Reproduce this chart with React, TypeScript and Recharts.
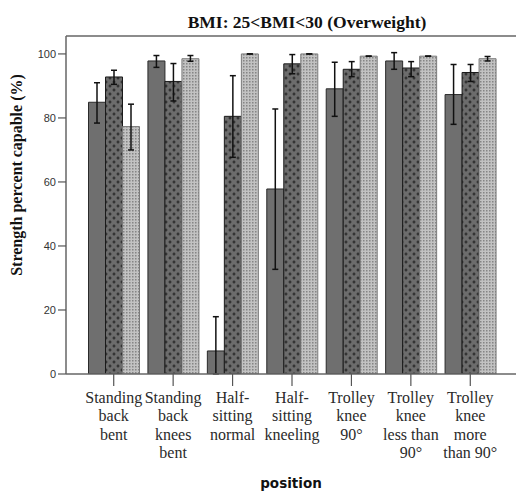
import React from "react";
import {
  Bar,
  BarChart,
  ErrorBar,
  ReferenceLine,
  XAxis,
  YAxis,
} from "recharts";

// positions, wrapped the way the axis shows them
const categories = [
  "Standing\nback\nbent",
  "Standing\nback\nknees\nbent",
  "Half-\nsitting\nnormal",
  "Half-\nsitting\nkneeling",
  "Trolley\nknee\n90°",
  "Trolley\nknee\nless than\n90°",
  "Trolley\nknee\nmore\nthan 90°",
];

// solid grey bars
const solidValues = [84.9, 97.8, 7.2, 57.8, 89.1, 97.8, 87.3];
const solidLow = [78.4, 95.8, 0, 32.7, 80.5, 95.2, 78.0];
const solidHigh = [91.0, 99.5, 17.9, 82.8, 97.4, 100.4, 96.7];

// cross-hatched bars
const crossValues = [92.8, 91.4, 80.5, 96.9, 95.2, 95.6, 94.2];
const crossLow = [90.5, 85.3, 67.7, 93.8, 92.9, 92.9, 91.4];
const crossHigh = [94.9, 97.0, 93.2, 99.8, 97.6, 97.6, 96.7];

// dotted light bars
const dotValues = [77.3, 98.5, 100, 100, 99.3, 99.3, 98.5];
const dotLow = [70.0, 97.7, 100, 100, 99.3, 99.3, 97.8];
const dotHigh = [84.3, 99.5, 100, 100, 99.3, 99.3, 99.2];

const yTicks = [0, 20, 40, 60, 80, 100];
const yMax = 105.6;

const data = categories.map((name, i) => ({
  name,
  solid: solidValues[i],
  solidErr: [solidValues[i] - solidLow[i], solidHigh[i] - solidValues[i]],
  cross: crossValues[i],
  crossErr: [crossValues[i] - crossLow[i], crossHigh[i] - crossValues[i]],
  dots: dotValues[i],
  dotsErr: [dotValues[i] - dotLow[i], dotHigh[i] - dotValues[i]],
}));

function CategoryTick({ x, y, payload }: any) {
  const lines = String(payload.value).split("\n");
  return (
    <text
      x={x}
      y={y}
      textAnchor="middle"
      fontFamily="'Liberation Serif', serif"
      fontSize={16}
      fill="#2a2a2a"
    >
      {lines.map((line, i) => (
        <tspan key={i} x={x} dy={i === 0 ? 16.5 : 18.5}>
          {line}
        </tspan>
      ))}
    </text>
  );
}

function YLabel({ viewBox }: any) {
  const cx = viewBox.x + 22;
  const cy = viewBox.y + viewBox.height / 2 - 30;
  return (
    <text
      x={cx}
      y={cy}
      transform={`rotate(-90 ${cx} ${cy})`}
      textAnchor="middle"
      fontFamily="'Liberation Serif', serif"
      fontWeight="bold"
      fontSize={16}
      fill="#111"
    >
      Strength percent capable (%)
    </text>
  );
}

function XLabel({ viewBox }: any) {
  return (
    <text
      x={viewBox.x + viewBox.width / 2}
      y={488}
      textAnchor="middle"
      fontFamily="'DejaVu Sans', sans-serif"
      fontWeight="bold"
      fontSize={13.5}
      fill="#111"
    >
      position
    </text>
  );
}

export default function App() {
  return (
    <div style={{ position: "absolute", left: 0, top: 0, width: 516, height: 491, background: "#fff" }}>
      <svg width={0} height={0} style={{ position: "absolute" }}>
        <defs>
          <pattern id="crossFill" width={8} height={8} patternUnits="userSpaceOnUse">
            <rect width={8} height={8} fill="#6c6c6c" />
            <path d="M2 0.5v3M0.5 2h3M6 4.5v3M4.5 6h3" stroke="#262626" strokeWidth={1.2} />
          </pattern>
          <pattern id="dotFill" width={3} height={3} patternUnits="userSpaceOnUse">
            <rect width={3} height={3} fill="#c2c2c2" />
            <rect width={1.5} height={1.5} fill="#858585" />
          </pattern>
        </defs>
      </svg>
      <svg width={516} height={40} style={{ position: "absolute", left: 0, top: 0 }}>
        <text
          x={307}
          y={28}
          textAnchor="middle"
          fontFamily="'Liberation Serif', serif"
          fontWeight="bold"
          fontSize={17.5}
          fill="#111"
        >
          BMI: 25&lt;BMI&lt;30 (Overweight)
        </text>
      </svg>
      <BarChart
        width={516}
        height={491}
        data={data}
        margin={{ top: 36, right: 0, bottom: 0, left: 0 }}
        barCategoryGap={4.5}
        barGap={0}
      >
        <XAxis
          dataKey="name"
          interval={0}
          height={117}
          padding={{ left: 18, right: 16 }}
          axisLine={{ stroke: "#666", strokeWidth: 1.5 }}
          tickLine={{ stroke: "#555", strokeWidth: 1.2 }}
          tickSize={12}
          tickMargin={0}
          tick={<CategoryTick />}
          label={<XLabel />}
        />
        <YAxis
          width={66}
          domain={[0, yMax]}
          ticks={yTicks}
          allowDataOverflow
          axisLine={{ stroke: "#666", strokeWidth: 1.5 }}
          tickLine={{ stroke: "#555", strokeWidth: 1.2 }}
          tickSize={8}
          tickMargin={2}
          tick={{ fontFamily: "'Liberation Sans', Arial, sans-serif", fontSize: 11, fill: "#333" }}
          label={<YLabel />}
        />
        <ReferenceLine y={yMax} stroke="#666" strokeWidth={1.5} />
        <Bar dataKey="solid" fill="#6f6f6f" stroke="#2a2a2a" strokeWidth={1} isAnimationActive={false}>
          <ErrorBar dataKey="solidErr" width={3} stroke="#111" strokeWidth={1.5} />
        </Bar>
        <Bar dataKey="cross" fill="url(#crossFill)" stroke="#1a1a1a" strokeWidth={1} isAnimationActive={false}>
          <ErrorBar dataKey="crossErr" width={3} stroke="#111" strokeWidth={1.5} />
        </Bar>
        <Bar dataKey="dots" fill="url(#dotFill)" stroke="#7a7a7a" strokeWidth={1} isAnimationActive={false}>
          <ErrorBar dataKey="dotsErr" width={3} stroke="#111" strokeWidth={1.5} />
        </Bar>
      </BarChart>
    </div>
  );
}
